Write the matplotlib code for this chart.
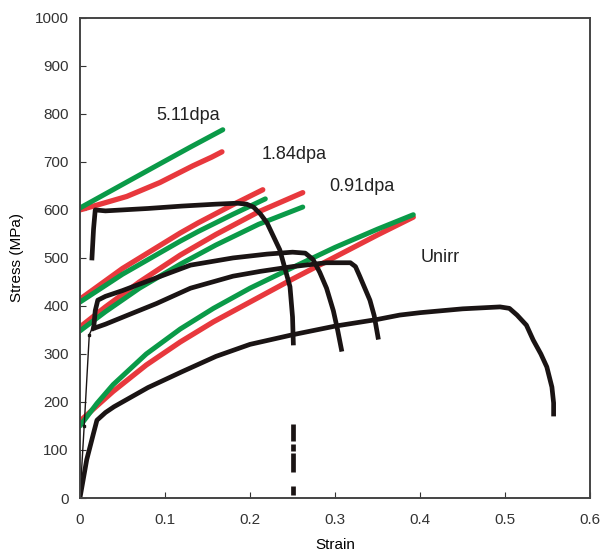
import numpy as np
import matplotlib
matplotlib.use("Agg")
import matplotlib.pyplot as plt

plt.rcParams['font.family'] = ['Liberation Sans', 'DejaVu Sans']

# ---- measured curves (strain, stress MPa) ----
unirr_strain = [0, 0.008, 0.016, 0.02, 0.03, 0.04, 0.06, 0.08, 0.12, 0.16, 0.2, 0.25, 0.3, 0.35,
                0.376, 0.4, 0.45, 0.494, 0.505, 0.514, 0.525, 0.533, 0.542, 0.549, 0.555, 0.557, 0.557]
unirr_stress = [0, 80, 135, 162, 178, 190, 210, 230, 263, 295, 320, 340, 358, 372,
                381, 386, 394, 398, 395, 381, 360, 329, 300, 273, 231, 198, 170]

d511_strain = [0.014, 0.016, 0.018, 0.03, 0.08, 0.12, 0.16, 0.185, 0.196, 0.204, 0.212, 0.22,
               0.235, 0.247, 0.25, 0.251]
d511_stress = [495, 560, 600, 598, 603, 608, 612, 614, 612, 606, 592, 573, 517, 440, 377, 318]

d184_strain = [0.016, 0.018, 0.021, 0.03, 0.05, 0.08, 0.13, 0.18, 0.22, 0.25, 0.265, 0.274,
               0.282, 0.29, 0.298, 0.303, 0.308]
d184_stress = [350, 390, 412, 420, 432, 452, 485, 500, 508, 512, 510, 497, 470, 437, 390, 350, 305]

d091_strain = [0.014, 0.03, 0.055, 0.09, 0.13, 0.18, 0.212, 0.25, 0.29, 0.318, 0.324, 0.329,
               0.335, 0.341, 0.346, 0.351]
d091_stress = [352, 362, 380, 405, 437, 462, 472, 482, 490, 490, 482, 462, 437, 412, 380, 330]

elastic_strain = [0, 0.005, 0.011, 0.014]
elastic_stress = [0, 150, 340, 352]

# fracture marker at 0.25 strain (dash segments, stress ranges)
frac_strain = 0.2505
frac_dashes = [(155, 118), (112, 98), (94, 55), (24, 6)]

# ---- model curves ----
red_511_x = [0, 0.02, 0.055, 0.094, 0.133, 0.155, 0.167]
red_511_y = [600, 610, 628, 657, 692, 710, 721]
green_511_x = [0, 0.05, 0.094, 0.13, 0.168]
green_511_y = [604, 653, 696, 731, 767]

red_184_x = [0, 0.05, 0.118, 0.139, 0.18, 0.215]
red_184_y = [414, 478, 552, 573, 611, 642]
green_184_x = [0, 0.05, 0.118, 0.139, 0.18, 0.218]
green_184_y = [408, 466, 535, 555, 591, 623]

red_091_x = [0, 0.03, 0.07, 0.118, 0.16, 0.21, 0.262]
red_091_y = [356, 398, 450, 506, 549, 596, 636]
green_091_x = [0, 0.03, 0.07, 0.118, 0.16, 0.21, 0.262]
green_091_y = [348, 388, 437, 487, 527, 570, 606]

red_un_x = [0, 0.02, 0.039, 0.078, 0.118, 0.157, 0.204, 0.25, 0.3, 0.35, 0.392]
red_un_y = [160, 192, 222, 277, 325, 367, 412, 456, 502, 548, 585]
green_un_x = [0, 0.02, 0.039, 0.078, 0.118, 0.157, 0.2, 0.25, 0.3, 0.35, 0.392]
green_un_y = [150, 197, 236, 300, 352, 395, 437, 480, 522, 560, 590]

labels = ["5.11dpa", "1.84dpa", "0.91dpa", "Unirr"]
label_pos = [(0.127, 796), (0.252, 715), (0.332, 648), (0.424, 500)]

RED = '#e8383d'
GREEN = '#0a9a48'
BLACK = '#1a1414'

fig = plt.figure(figsize=(6.01, 5.58), dpi=100)
ax = fig.add_axes([0.133, 0.1075, 0.849, 0.8605])

for (x, y) in [(red_511_x, red_511_y), (red_184_x, red_184_y),
               (red_091_x, red_091_y), (red_un_x, red_un_y)]:
    ax.plot(x, y, color=RED, lw=3.8, solid_capstyle='round', solid_joinstyle='round')
for (x, y) in [(green_511_x, green_511_y), (green_184_x, green_184_y),
               (green_091_x, green_091_y), (green_un_x, green_un_y)]:
    ax.plot(x, y, color=GREEN, lw=3.6, solid_capstyle='round', solid_joinstyle='round')

ax.plot(elastic_strain, elastic_stress, color=BLACK, lw=1.0, marker='s', ms=2)
for (x, y) in [(unirr_strain, unirr_stress), (d511_strain, d511_stress),
               (d184_strain, d184_stress), (d091_strain, d091_stress)]:
    ax.plot(x, y, color=BLACK, lw=3.4, solid_capstyle='butt', solid_joinstyle='round')

for top, bot in frac_dashes:
    ax.plot([frac_strain, frac_strain], [top, bot], color=BLACK, lw=3.4, solid_capstyle='butt')

for txt, (x, y) in zip(labels, label_pos):
    ax.text(x, y, txt, fontsize=13, ha='center', va='center', color='#222222')

ax.set_xlim(0, 0.6)
ax.set_ylim(0, 1000)
ax.set_xticks(np.arange(0, 0.61, 0.1))
ax.set_xticklabels(['0', '0.1', '0.2', '0.3', '0.4', '0.5', '0.6'])
ax.set_yticks(np.arange(0, 1001, 100))
ax.tick_params(direction='in', length=4, labelsize=11, colors='#333333')
ax.tick_params(axis='x', pad=11)
ax.tick_params(axis='y', pad=8)
for s in ax.spines.values():
    s.set_color('#444444')
    s.set_linewidth(1.4)
ax.set_xlabel('Strain', fontsize=11, labelpad=8)
ax.set_ylabel('Stress (MPa)', fontsize=11, labelpad=8)

fig.savefig('out.png', dpi=100)
